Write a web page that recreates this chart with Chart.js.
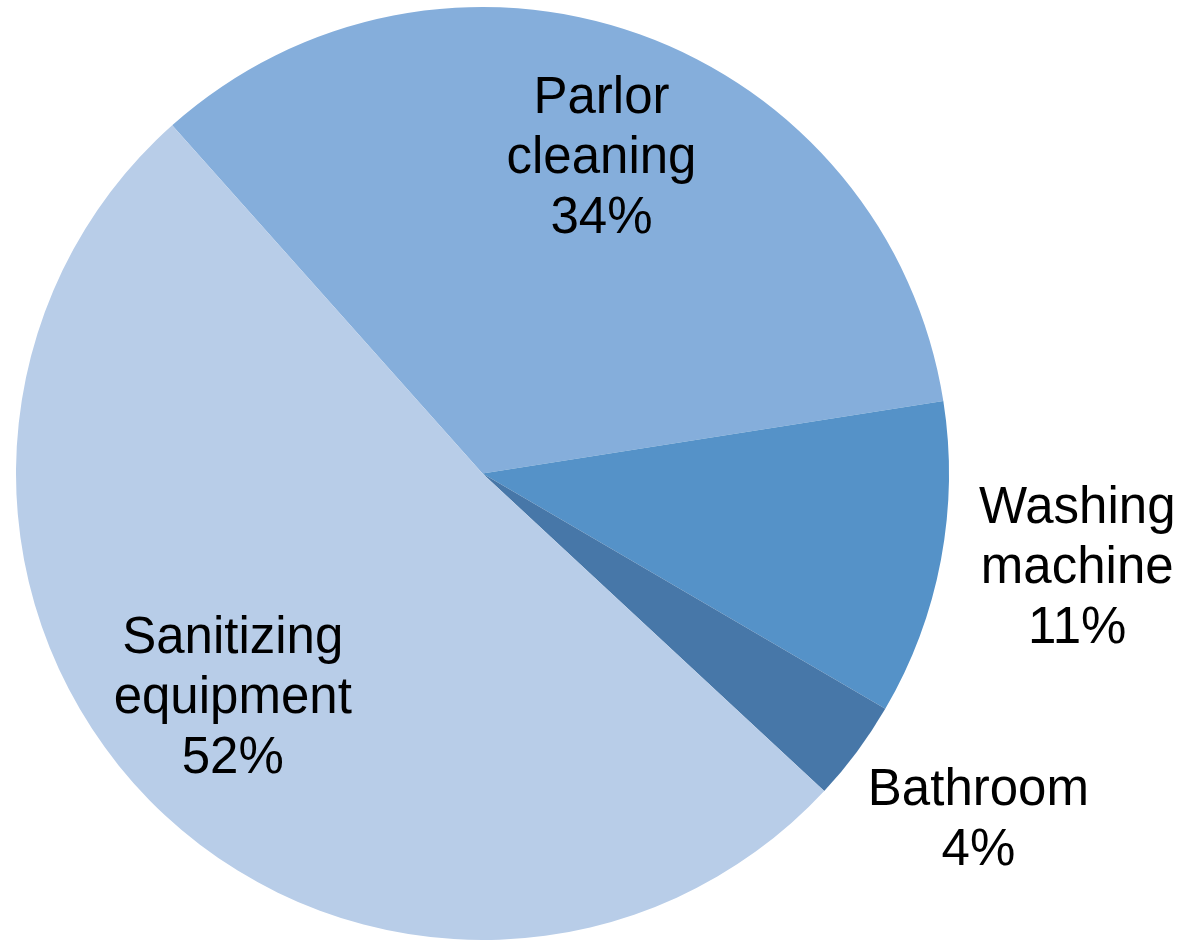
<!DOCTYPE html>
<html>
<head>
<meta charset="utf-8">
<style>
  html, body { margin: 0; padding: 0; background: #ffffff; }
  #wrap { width: 1195px; height: 941px; }
</style>
<script src="https://cdn.jsdelivr.net/npm/chart.js@4/dist/chart.umd.min.js"></script>
</head>
<body>
<div id="wrap"><canvas id="c" width="1195" height="941"></canvas></div>
<script>
// Data
const categories = [["Parlor", "cleaning"], ["Washing", "machine"], ["Bathroom"], ["Sanitizing", "equipment"]];
const shares = [34.1, 10.9, 3.5, 51.5];
const sliceColors = ["#85AEDB", "#5592C8", "#4777A8", "#B8CDE8"];

// Label placement (relative to each slice's mid-angle)
const labelRadiusFrac = [0.729, 1.29, 1.293, 0.716];
const labelAngleTweakDeg = [0.8, -1.9, -1.9, 2.8];
const LABEL_FONT = '51px "Liberation Sans", Arial, sans-serif';
const LINE_H = 60;
const TEXT_SHIFT_Y = 4;

const labelPlugin = {
  id: 'sliceLabels',
  afterDatasetsDraw(chart) {
    const ctx = chart.ctx;
    const meta = chart.getDatasetMeta(0);
    const data = chart.data.datasets[0].data;
    ctx.save();
    ctx.font = LABEL_FONT;
    ctx.fillStyle = '#000000';
    ctx.textAlign = 'center';
    ctx.textBaseline = 'middle';
    meta.data.forEach((arc, i) => {
      const p = arc.getProps(['x', 'y', 'startAngle', 'endAngle', 'outerRadius'], true);
      const mid = (p.startAngle + p.endAngle) / 2 + labelAngleTweakDeg[i] * Math.PI / 180;
      const r = p.outerRadius * labelRadiusFrac[i];
      const cx = p.x + Math.cos(mid) * r;
      const cy = p.y + Math.sin(mid) * r + TEXT_SHIFT_Y;
      const lines = categories[i].concat([Math.round(data[i]) + '%']);
      const n = lines.length;
      lines.forEach((t, k) => {
        const dy = (k - (n - 1) / 2) * LINE_H;
        ctx.fillText(t, cx, cy + dy);
      });
    });
    ctx.restore();
  }
};

new Chart(document.getElementById('c'), {
  type: 'pie',
  data: {
    labels: categories.map(c => c.join(' ')),
    datasets: [{
      data: shares,
      backgroundColor: sliceColors,
      borderWidth: 0,
      hoverOffset: 0
    }]
  },
  options: {
    responsive: false,
    animation: false,
    rotation: 318.3,
    layout: { padding: { left: 16, right: 246, top: 7, bottom: 1 } },
    plugins: {
      legend: { display: false },
      tooltip: { enabled: false }
    },
    events: []
  },
  plugins: [labelPlugin]
});
</script>
</body>
</html>
